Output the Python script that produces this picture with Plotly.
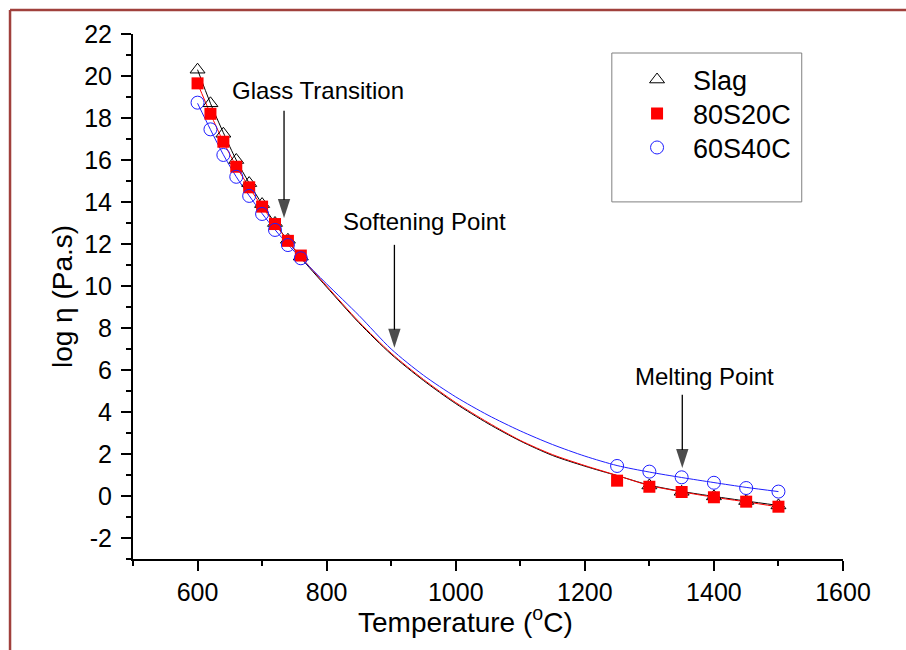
import plotly.graph_objects as go

# Measured viscosity (log eta, Pa.s) versus temperature (deg C)
temp_low = [600, 620, 640, 660, 680, 700, 720, 740, 760]
temp_high_slag = [1300, 1350, 1400, 1450, 1500]
temp_high = [1250, 1300, 1350, 1400, 1450, 1500]

slag_low = [20.3, 18.7, 17.25, 16.0, 14.9, 13.9, 13.0, 12.2, 11.4]
slag_high = [0.5, 0.2, -0.02, -0.24, -0.45]

s80c20_low = [19.65, 18.2, 16.87, 15.68, 14.7, 13.78, 12.95, 12.15, 11.45]
s80c20_high = [0.73, 0.44, 0.19, -0.06, -0.27, -0.51]

s60c40_low = [18.73, 17.46, 16.24, 15.2, 14.29, 13.43, 12.67, 11.95, 11.32]
s60c40_high = [1.43, 1.16, 0.89, 0.63, 0.38, 0.21]

# Fitted viscosity curves
fit_temp = [600, 620, 640, 660, 680, 700, 720, 740, 760, 800, 850, 900, 950,
            1000, 1050, 1100, 1150, 1200, 1250, 1300, 1350, 1400, 1450, 1500]
fit_slag = [20.3, 18.7, 17.3, 16.0, 14.9, 13.9, 13.0, 12.15, 11.35, 9.95, 8.25,
            6.75, 5.5, 4.4, 3.45, 2.62, 1.93, 1.42, 0.97, 0.52, 0.22, -0.02,
            -0.24, -0.45]
fit_80s20c = [19.65, 18.2, 16.87, 15.7, 14.7, 13.78, 12.95, 12.15, 11.4, 10.0,
              8.3, 6.8, 5.55, 4.45, 3.5, 2.65, 1.97, 1.45, 0.98, 0.5, 0.2,
              -0.06, -0.28, -0.52]
fit_60s40c = [18.7, 17.45, 16.25, 15.2, 14.3, 13.45, 12.68, 11.97, 11.33, 10.1,
              8.6, 7.0, 5.75, 4.72, 3.85, 3.1, 2.45, 1.9, 1.45, 1.14, 0.88,
              0.64, 0.41, 0.21]

# Characteristic points: label, arrow temperature, arrow tip, arrow tail, label position
point_labels = ["Glass Transition", "Softening Point", "Melting Point"]
arrow_temp = [734, 905, 1351]
arrow_tip = [13.24, 7.06, 1.33]
arrow_tail = [18.34, 11.96, 4.82]
label_x = [787, 952, 1386]
label_y = [19.3, 13.05, 5.7]

x_ticks = [600, 800, 1000, 1200, 1400, 1600]
x_minor = [500, 700, 900, 1100, 1300, 1500]
y_ticks = [-2, 0, 2, 4, 6, 8, 10, 12, 14, 16, 18, 20, 22]
y_tick_text = ["-2", "0", "2", "4", "6", "8", "10", "12", "14", "16", "18", "20", "22"]
y_minor = [-3, -1, 1, 3, 5, 7, 9, 11, 13, 15, 17, 19, 21]

FONT = "Liberation Sans, Arial, sans-serif"
BLACK = "#000000"
RED = "#FF0000"
BLUE = "#1E1EFF"
BORDER = "#A0403C"

fig = go.Figure()

# fit curves
for ys, col in [(fit_slag, BLACK), (fit_80s20c, RED), (fit_60s40c, BLUE)]:
    fig.add_trace(go.Scatter(
        x=fit_temp, y=ys, mode="lines",
        line=dict(color=col, width=1, shape="spline", smoothing=0.8),
        showlegend=False, hoverinfo="skip"))

# measured points, each listed in its own legend row
fig.add_trace(go.Scatter(
    x=temp_low + temp_high_slag, y=slag_low + slag_high, mode="markers", name="Slag",
    marker=dict(symbol="triangle-up-open", size=13, color=BLACK, line=dict(width=1, color=BLACK)),
    legend="legend"))
fig.add_trace(go.Scatter(
    x=temp_low + temp_high, y=s80c20_low + s80c20_high, mode="markers", name="80S20C",
    marker=dict(symbol="square", size=12, color=RED, line=dict(width=0)),
    legend="legend2"))
fig.add_trace(go.Scatter(
    x=temp_low + temp_high, y=s60c40_low + s60c40_high, mode="markers", name="60S40C",
    marker=dict(symbol="circle-open", size=13, color=BLUE, line=dict(width=1, color=BLUE)),
    legend="legend3"))

# vertical arrows pointing at the characteristic temperatures
for t, tip, tail in zip(arrow_temp, arrow_tip, arrow_tail):
    fig.add_trace(go.Scatter(
        x=[t, t], y=[tail, tip], mode="lines+markers",
        line=dict(color=BLACK, width=1.3),
        marker=dict(symbol=["line-ew", "arrow"], size=[0, 20], color=BLACK,
                    angleref="previous", line=dict(width=0)),
        showlegend=False, hoverinfo="skip"))

annotations = []
for label, lx, ly in zip(point_labels, label_x, label_y):
    annotations.append(dict(
        x=lx, y=ly, xref="x", yref="y", text=label, showarrow=False,
        font=dict(family=FONT, size=24, color=BLACK), xanchor="center", yanchor="middle"))

# x axis title, centred slightly left of the plot middle
annotations.append(dict(
    x=0.4688, y=-0.116, xref="paper", yref="paper",
    text="Temperature (<sup>o</sup>C)",
    showarrow=False, font=dict(family=FONT, size=28, color=BLACK),
    xanchor="center", yanchor="middle"))

shapes = [
    # legend frame
    dict(type="rect", xref="paper", yref="paper", x0=0.6744, x1=0.9419, y0=0.6802, y1=0.9638,
         line=dict(color="#808080", width=1), fillcolor="rgba(0,0,0,0)", layer="below"),
    # page border lines
    dict(type="line", xref="paper", yref="paper", x0=-0.1732, x1=-0.1732, y0=1.0457, y1=-0.18,
         line=dict(color=BORDER, width=2.5)),
    dict(type="line", xref="paper", yref="paper", x0=-0.1732, x1=1.09, y0=1.0457, y1=1.0457,
         line=dict(color=BORDER, width=2.5)),
]

axis_font = dict(family=FONT, size=25, color=BLACK)
legend_style = dict(x=0.6874, xanchor="left", yanchor="middle",
                    bgcolor="rgba(0,0,0,0)", borderwidth=0,
                    font=dict(family=FONT, size=27, color=BLACK),
                    itemwidth=62, itemsizing="trace")

fig.update_layout(
    width=906, height=650,
    margin=dict(l=133, r=63, t=34, b=91),
    paper_bgcolor="white", plot_bgcolor="white",
    font=dict(family=FONT, color=BLACK),
    showlegend=True,
    legend=dict(y=0.9124, **legend_style),
    legend2=dict(y=0.8477, **legend_style),
    legend3=dict(y=0.7830, **legend_style),
    annotations=annotations,
    shapes=shapes,
    xaxis=dict(range=[500, 1600], tickmode="array", tickvals=x_ticks, ticks="outside",
               ticklen=10, tickwidth=2, tickcolor=BLACK, showline=True, linewidth=2,
               linecolor=BLACK, showgrid=False, zeroline=False, tickfont=axis_font,
               minor=dict(tickmode="array", tickvals=x_minor, ticks="outside", ticklen=5,
                          tickwidth=2, tickcolor=BLACK, showgrid=False)),
    yaxis=dict(range=[-3, 22], tickmode="array", tickvals=y_ticks, ticktext=y_tick_text,
               ticks="outside", ticklen=10, tickwidth=2, tickcolor=BLACK, showline=True,
               linewidth=2, linecolor=BLACK, showgrid=False, zeroline=False,
               tickfont=axis_font, ticklabelstandoff=4,
               title=dict(text="log η (Pa.s)", standoff=3,
                          font=dict(family=FONT, size=28, color=BLACK)),
               minor=dict(tickmode="array", tickvals=y_minor, ticks="outside", ticklen=5,
                          tickwidth=2, tickcolor=BLACK, showgrid=False)),
    xaxis2=dict(range=[500, 1600], overlaying="x", side="top", tickmode="array",
                tickvals=x_ticks, ticks="inside", ticklen=10, tickwidth=2, tickcolor=BLACK,
                showticklabels=False, showline=True, linewidth=2, linecolor=BLACK,
                showgrid=False, zeroline=False,
                minor=dict(tickmode="array", tickvals=x_minor, ticks="inside", ticklen=5,
                           tickwidth=2, tickcolor=BLACK, showgrid=False)),
    yaxis2=dict(range=[-3, 22], overlaying="y", side="right", tickmode="array",
                tickvals=y_ticks, ticks="inside", ticklen=10, tickwidth=2, tickcolor=BLACK,
                showticklabels=False, showline=True, linewidth=2, linecolor=BLACK,
                showgrid=False, zeroline=False,
                minor=dict(tickmode="array", tickvals=y_minor, ticks="inside", ticklen=5,
                           tickwidth=2, tickcolor=BLACK, showgrid=False)),
)

fig.write_html("out.html")
